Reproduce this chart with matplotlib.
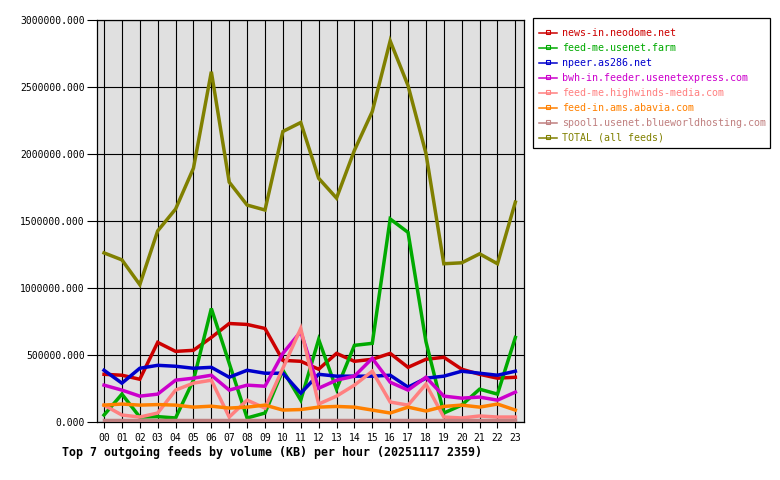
import numpy as np
import matplotlib
matplotlib.use('Agg')
import matplotlib.pyplot as plt
from matplotlib.lines import Line2D
from matplotlib.patches import Rectangle

hours = ['%02d' % h for h in range(24)]

feeds = ['news-in.neodome.net', 'feed-me.usenet.farm', 'npeer.as286.net',
         'bwh-in.feeder.usenetexpress.com', 'feed-me.highwinds-media.com',
         'feed-in.ams.abavia.com', 'spool1.usenet.blueworldhosting.com',
         'TOTAL (all feeds)']
colors = ['#cc0000', '#00aa00', '#0000cc', '#cc00cc', '#ff8080',
          '#ff8000', '#c08080', '#808000']

neodome = [356e3, 349e3, 319e3, 594e3, 527e3, 535e3, 631e3, 735e3, 728e3, 698e3, 460e3, 453e3,
           394e3, 512e3, 453e3, 468e3, 512e3, 408e3, 468e3, 483e3, 394e3, 356e3, 327e3, 334e3]
usenetfarm = [52e3, 208e3, 37e3, 40e3, 30e3, 312e3, 847e3, 438e3, 30e3, 67e3, 386e3, 163e3,
              616e3, 245e3, 572e3, 587e3, 1515e3, 1415e3, 600e3, 67e3, 126e3, 245e3, 208e3, 631e3]
as286 = [386e3, 290e3, 401e3, 423e3, 416e3, 401e3, 408e3, 334e3, 386e3, 364e3, 364e3, 215e3,
         356e3, 342e3, 342e3, 342e3, 349e3, 260e3, 327e3, 342e3, 379e3, 364e3, 349e3, 379e3]
usenetexpress = [275e3, 238e3, 193e3, 208e3, 312e3, 327e3, 349e3, 238e3, 275e3, 267e3, 512e3, 675e3,
                 252e3, 312e3, 342e3, 475e3, 297e3, 238e3, 334e3, 193e3, 178e3, 186e3, 163e3, 223e3]
highwinds = [126e3, 52e3, 37e3, 67e3, 238e3, 290e3, 312e3, 37e3, 163e3, 104e3, 401e3, 698e3,
             134e3, 193e3, 275e3, 379e3, 149e3, 126e3, 282e3, 37e3, 30e3, 45e3, 37e3, 37e3]
abavia = [126e3, 134e3, 126e3, 130e3, 126e3, 111e3, 118e3, 104e3, 111e3, 126e3, 89e3, 93e3,
          111e3, 116e3, 111e3, 89e3, 67e3, 111e3, 82e3, 116e3, 126e3, 111e3, 134e3, 89e3]
blueworld = [18e3] * 24
total = [1262e3, 1210e3, 1025e3, 1426e3, 1589e3, 1894e3, 2614e3, 1790e3, 1619e3, 1582e3, 2168e3, 2235e3,
         1819e3, 1671e3, 2027e3, 2317e3, 2844e3, 2510e3, 2005e3, 1181e3, 1188e3, 1255e3, 1181e3, 1641e3]

series = [neodome, usenetfarm, as286, usenetexpress, highwinds, abavia, blueworld, total]

W, H = 780, 480
mono = 'DejaVu Sans Mono'

def fx(x):
    return x / W

def fy(y):
    return 1 - y / H

fig = plt.figure(figsize=(7.8, 4.8), dpi=100)
left, right, top, bottom = 96.7, 524.3, 20, 422
ax = fig.add_axes([fx(left), fy(bottom), (right - left) / W, (bottom - top) / H])
ax.set_facecolor('#e0e0e0')

x = np.arange(24)
for i, vals in enumerate(series):
    ax.plot(x, vals, color=colors[i], lw=2.5, zorder=3 + i, solid_joinstyle='miter')

ax.set_xlim(-0.41, 23.5)
ax.set_ylim(0, 3000000)
ax.set_xticks(x)
ax.set_xticklabels(hours, fontfamily=mono, fontsize=7)
yt = np.arange(0, 3000001, 500000)
ax.set_yticks(yt)
ax.set_yticklabels(['%.3f' % v for v in yt], fontfamily=mono, fontsize=7)
ax.tick_params(axis='y', length=7, width=0.8, pad=1.5)
ax.tick_params(axis='x', length=4, width=0.8, pad=4)
ax.grid(True, color='black', lw=0.8)
ax.set_axisbelow(True)
for s in ax.spines.values():
    s.set_linewidth(0.9)

fig.text(fx(62), fy(452), 'Top 7 outgoing feeds by volume (KB) per hour (20251117 2359)',
         fontfamily=mono, fontweight='bold', fontsize=8.35, ha='left', va='center')

# legend box
fig.add_artist(Rectangle((fx(533), fy(148)), (770 - 533) / W, (148 - 18) / H,
                         transform=fig.transFigure, fill=False, edgecolor='black', lw=0.9))
for i, name in enumerate(feeds):
    yy = 33 + 15 * i
    fig.add_artist(Line2D([fx(539), fx(557)], [fy(yy), fy(yy)], transform=fig.transFigure,
                          color=colors[i], lw=1.1))
    fig.add_artist(Line2D([fx(548)], [fy(yy - 1)], transform=fig.transFigure, color=colors[i],
                          marker='s', markersize=2.5, mfc='none', mew=0.8, lw=0))
    fig.text(fx(562), fy(yy), name, color=colors[i], fontfamily=mono, fontsize=7.2,
             ha='left', va='center')

fig.savefig('out.png', dpi=100)
